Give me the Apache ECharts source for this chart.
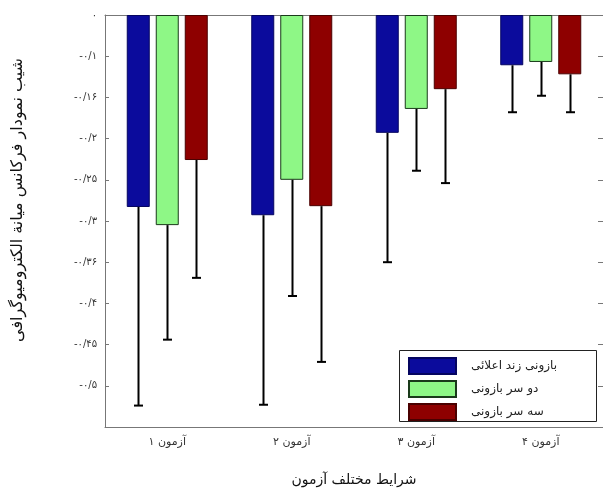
<!DOCTYPE html>
<html>
<head>
<meta charset="utf-8">
<script src="https://cdn.jsdelivr.net/npm/echarts@6/dist/echarts.min.js"></script>
<style>
html,body{margin:0;padding:0;background:#fff;}
#c{width:603px;height:490px;}
</style>
</head>
<body>
<div id="c"></div>
<script>
const categories = ['آزمون ۱', 'آزمون ۲', 'آزمون ۳', 'آزمون ۴'];
const seriesNames = ['بازونی زند اعلائی', 'دو سر بازونی', 'سه سر بازونی'];
const meanBrachio = [-0.233, -0.243, -0.143, -0.061];
const meanBiceps  = [-0.255, -0.200, -0.114, -0.057];
const meanTriceps = [-0.176, -0.232, -0.090, -0.072];
const errBrachio = [0.241, 0.230, 0.157, 0.057];
const errBiceps  = [0.139, 0.141, 0.075, 0.041];
const errTriceps = [0.143, 0.189, 0.114, 0.046];
const yTickLabels = ['۰', '-۰/۱', '-۰/۱۶', '-۰/۲', '-۰/۲۵', '-۰/۳', '-۰/۳۶', '-۰/۴', '-۰/۴۵', '-۰/۵', ''];
const xAxisTitle = 'شرایط مختلف آزمون';
const yAxisTitle = 'شیب نمودار فرکانس میانة الکترومیوگرافی';

const colors = ['#0b0b9c', '#8ef786', '#8e0000'];
const borders = ['#050560', '#1a3a1a', '#4a0000'];
const means = [meanBrachio, meanBiceps, meanTriceps];
const errs = [errBrachio, errBiceps, errTriceps];
const BAR_W = 23, BAR_GAP = 6;
const FONT = 'DejaVu Sans';

const chart = echarts.init(document.getElementById('c'));

const barSeries = seriesNames.map((n, s) => ({
  name: n,
  type: 'bar',
  data: means[s],
  barWidth: BAR_W,
  barGap: (BAR_GAP / BAR_W * 100) + '%',
  itemStyle: {color: colors[s], borderColor: borders[s], borderWidth: 1},
  emphasis: {disabled: true},
  z: 2
}));

const errSeries = seriesNames.map((n, s) => ({
  type: 'custom',
  silent: true,
  z: 5,
  data: means[s].map((m, i) => [i, m, m - errs[s][i]]),
  renderItem: function (params, api) {
    const i = api.value(0);
    const off = (s - 1) * (BAR_W + BAR_GAP);
    const p1 = api.coord([i, api.value(1)]);
    const p2 = api.coord([i, api.value(2)]);
    const x = Math.round(p1[0] + off) + 0.5;
    const st = {stroke: '#000', lineWidth: 2};
    return {
      type: 'group',
      children: [
        {type: 'line', shape: {x1: x, y1: p1[1], x2: x, y2: p2[1]}, style: st},
        {type: 'line', shape: {x1: x - 4.5, y1: p2[1], x2: x + 4.5, y2: p2[1]}, style: st}
      ]
    };
  }
}));

chart.setOption({
  animation: false,
  backgroundColor: '#fff',
  grid: {left: 105, top: 15, right: 0, bottom: 63, outerBoundsMode: 'none', containLabel: false},
  legend: {
    orient: 'vertical',
    left: 408,
    top: 357,
    z: 20,
    data: seriesNames,
    icon: 'rect',
    itemWidth: 47,
    itemHeight: 16,
    itemGap: 5,
    padding: 0,
    selectedMode: false,
    textStyle: {fontFamily: FONT, fontSize: 12, color: '#222', padding: [0, 0, 0, 10]}
  },
  xAxis: [{
    type: 'category',
    data: categories,
    axisLine: {onZero: false, lineStyle: {color: '#777'}},
    axisTick: {inside: true, alignWithLabel: true, length: 5, lineStyle: {color: '#777'}},
    axisLabel: {fontFamily: FONT, fontSize: 11, color: '#333', margin: 10},
    name: xAxisTitle,
    nameLocation: 'middle',
    nameGap: 46,
    nameTextStyle: {fontFamily: FONT, fontSize: 14, color: '#111'}
  }, {
    type: 'category',
    position: 'top',
    data: categories,
    axisLine: {onZero: false, lineStyle: {color: '#777'}},
    axisTick: {show: false},
    axisLabel: {show: false}
  }],
  yAxis: [{
    type: 'value',
    min: -0.5, max: 0, interval: 0.05,
    splitLine: {show: false},
    axisLine: {show: true, lineStyle: {color: '#777'}},
    axisTick: {show: true, inside: true, length: 4, lineStyle: {color: '#777'}},
    axisLabel: {
      fontFamily: FONT, fontSize: 10, color: '#333', margin: 8,
      formatter: v => yTickLabels[Math.round(-v / 0.05)]
    }
  }, {
    type: 'value',
    position: 'right',
    min: -0.5, max: 0, interval: 0.05,
    splitLine: {show: false},
    axisLine: {show: false},
    axisTick: {show: true, inside: true, length: 5, lineStyle: {color: '#777'}},
    axisLabel: {show: false}
  }],
  graphic: [{
    type: 'rect',
    shape: {x: 399.5, y: 350.5, width: 197, height: 71},
    style: {fill: '#fff', stroke: '#222', lineWidth: 1},
    z: 3, silent: true
  }, {
    type: 'text',
    x: 18, y: 200,
    rotation: Math.PI / 2,
    style: {text: yAxisTitle, fontFamily: FONT, fontSize: 16, fill: '#111', align: 'center', verticalAlign: 'middle'}
  }],
  series: barSeries.concat(errSeries)
});
</script>
</body>
</html>
